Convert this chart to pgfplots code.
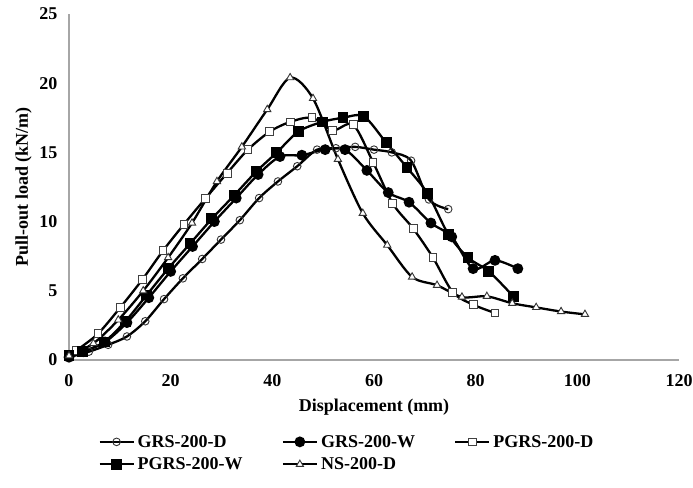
\documentclass[border=0pt]{standalone}
\usepackage{pgfplots}
\pgfplotsset{compat=1.18}
\usepackage{fontspec}
\setmainfont{Liberation Serif}
\begin{document}
\begin{tikzpicture}
\begin{axis}[
  scale only axis, width=610pt, height=346pt,
  xmin=0, xmax=120, ymin=0, ymax=25,
  xtick={0,20,...,120}, ytick={0,5,...,25},
  axis x line=bottom, axis y line=left,
  axis line style={draw=gray!70, line width=1.2pt, -},
  major tick length=0pt,
  /pgf/number format/assume math mode=true,
  tick label style={font=\fontsize{18}{21}\selectfont\bfseries},
  xticklabel style={yshift=-11pt},
  yticklabel style={xshift=-8pt},
  xlabel={Displacement (mm)}, ylabel={Pull-out load (kN/m)},
  label style={font=\fontsize{18}{21}\selectfont\bfseries},
  xlabel style={yshift=-5pt},
  ylabel style={yshift=1pt},
  clip=false,
  every axis plot/.append style={line width=2.3pt, black, smooth, tension=0.5},
  legend image code/.code={\draw[#1, mark repeat=2, mark phase=2] plot coordinates {(0pt,0pt) (17pt,0pt) (34pt,0pt)};},
  legend style={draw=none, fill=none, legend columns=3, at={(0.043,-0.205)}, anchor=north west,
    font=\fontsize{18}{21}\selectfont\bfseries, row sep=5pt,
    /tikz/every even column/.append style={column sep=37pt},
    /tikz/every odd column/.append style={column sep=1pt}},
  legend cell align=left,
]
\addplot[mark=o, mark size=3.8pt, mark options={solid, line width=0.9pt, draw=black!80, fill=white}] coordinates {
(0,0.2)(3.9,0.6)(7.7,1.1)(11.4,1.7)(15.0,2.8)(18.7,4.4)(22.4,5.9)(26.2,7.3)(29.9,8.7)(33.6,10.1)(37.4,11.7)(41.1,12.9)(44.9,14.0)(48.8,15.2)(52.5,15.3)(56.3,15.4)(60.0,15.2)(63.5,15.0)(67.3,14.4)(70.8,11.6)(74.6,10.9)};
\addlegendentry{GRS-200-D}
\addplot[mark=*, mark size=4.2pt, mark options={solid, fill=black, draw=black}] coordinates {
(0,0.2)(2.8,0.6)(7.1,1.3)(11.4,2.7)(15.7,4.5)(20.0,6.4)(24.3,8.2)(28.6,10.0)(32.9,11.7)(37.2,13.4)(41.5,14.7)(45.8,14.8)(50.4,15.2)(54.3,15.2)(58.6,13.7)(62.8,12.1)(66.9,11.4)(71.2,9.9)(75.3,8.9)(79.5,6.6)(83.8,7.2)(88.3,6.6)};
\addlegendentry{GRS-200-W}
\addplot[mark=square*, mark size=3.9pt, mark options={solid, line width=0.9pt, draw=black!75, fill=white}] coordinates {
(0,0.3)(1.5,0.7)(5.7,1.9)(10.1,3.8)(14.4,5.8)(18.5,7.9)(22.6,9.8)(26.9,11.7)(31.1,13.5)(35.2,15.2)(39.5,16.5)(43.5,17.2)(47.8,17.5)(51.9,16.6)(55.9,17.0)(59.8,14.3)(63.7,11.3)(67.7,9.5)(71.6,7.4)(75.5,4.9)(79.5,4.0)(83.8,3.4)};
\addlegendentry{PGRS-200-D}
\addplot[mark=square*, mark size=4.3pt, mark options={solid, fill=black, draw=black}] coordinates {
(0,0.3)(2.7,0.6)(6.9,1.3)(11.1,2.8)(15.3,4.7)(19.5,6.6)(23.8,8.4)(28.1,10.2)(32.5,11.9)(36.8,13.6)(40.9,15.0)(45.1,16.5)(49.8,17.2)(53.9,17.5)(58.0,17.6)(62.4,15.7)(66.5,13.9)(70.6,12.0)(74.6,9.1)(78.5,7.4)(82.6,6.4)(87.4,4.6)};
\addlegendentry{PGRS-200-W}
\addplot[mark=triangle*, mark size=4.2pt, mark options={solid, line width=0.9pt, draw=black!80, fill=white}] coordinates {
(0,0.3)(4.8,1.2)(9.7,2.9)(14.6,5.0)(19.5,7.4)(24.2,9.9)(29.1,12.9)(34.0,15.4)(39.0,18.1)(43.5,20.4)(48.0,18.9)(52.9,14.5)(57.8,10.6)(62.6,8.3)(67.5,6.0)(72.4,5.4)(77.3,4.55)(82.2,4.6)(87.2,4.1)(91.9,3.8)(96.8,3.5)(101.5,3.3)};
\addlegendentry{NS-200-D}
\end{axis}
\pgfresetboundingbox
\path[use as bounding box] (-69pt,-127pt) rectangle (624pt,360pt);
\end{tikzpicture}
\end{document}
